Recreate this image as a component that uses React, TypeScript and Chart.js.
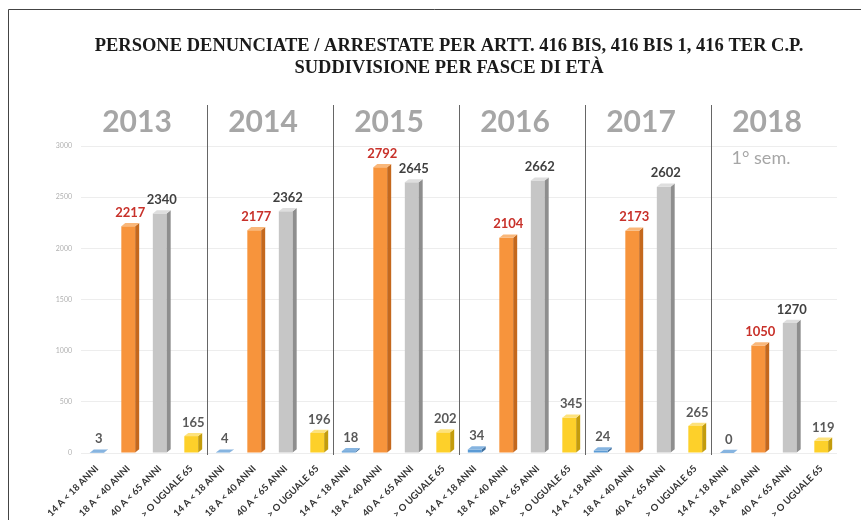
import React, { useEffect, useRef } from 'react';
import { Chart, registerables } from 'chart.js';
Chart.register(...registerables);

const years = ['2013', '2014', '2015', '2016', '2017', '2018'];
const ageGroups = ['14 A < 18 ANNI', '18 A < 40 ANNI', '40 A < 65 ANNI', '> O UGUALE 65'];
const age14to18 = [3, 4, 18, 34, 24, 0];
const age18to40 = [2217, 2177, 2792, 2104, 2173, 1050];
const age40to65 = [2340, 2362, 2645, 2662, 2602, 1270];
const age65plus = [165, 196, 202, 345, 265, 119];
const yMax = 3000;
const yStep = 500;
const titleLines = [
  'PERSONE DENUNCIATE / ARRESTATE PER ARTT. 416 BIS, 416 BIS 1, 416 TER C.P.',
  'SUDDIVISIONE PER FASCE DI ETÀ',
];
const yearNote = '1° sem.';

const seriesValues = [age14to18, age18to40, age40to65, age65plus];
const palette = [
  { front: '#5b9bd5', side: '#3f6f9e', top: '#86b4e0', label: '#595959' },
  { front: '#f7943c', side: '#c4681d', top: '#f9b77a', label: '#c8312a' },
  { front: '#c6c6c6', side: '#8e8e8e', top: '#dedede', label: '#404040' },
  { front: '#fdd02a', side: '#c39c0c', top: '#fde27c', label: '#595959' },
];

const labels: string[] = [];
const values: number[] = [];
const groupIdx: number[] = [];
years.forEach((_, yi) => {
  ageGroups.forEach((g, gi) => {
    labels.push(g);
    values.push(seriesValues[gi][yi]);
    groupIdx.push(gi);
  });
});

const DEPTH = 4;

const decorPlugin = {
  id: 'decor',
  afterDatasetsDraw(chart: any) {
    const ctx = chart.ctx;
    const meta = chart.getDatasetMeta(0);
    meta.data.forEach((bar: any, i: number) => {
      const p = palette[groupIdx[i]];
      const { x, y, base, width } = bar.getProps(['x', 'y', 'base', 'width'], true);
      const l = x - width / 2;
      const r = x + width / 2;
      ctx.save();
      ctx.fillStyle = p.side;
      ctx.beginPath();
      ctx.moveTo(r, y);
      ctx.lineTo(r + DEPTH, y - DEPTH * 0.8);
      ctx.lineTo(r + DEPTH, base - DEPTH * 0.8);
      ctx.lineTo(r, base);
      ctx.closePath();
      ctx.fill();
      ctx.fillStyle = p.top;
      ctx.beginPath();
      ctx.moveTo(l, y);
      ctx.lineTo(l + DEPTH, y - DEPTH * 0.8);
      ctx.lineTo(r + DEPTH, y - DEPTH * 0.8);
      ctx.lineTo(r, y);
      ctx.closePath();
      ctx.fill();
      ctx.fillStyle = p.label;
      ctx.font = 'bold 13px Lato';
      ctx.textAlign = 'center';
      ctx.textBaseline = 'bottom';
      ctx.fillText(String(values[i]), x + 2, y - DEPTH - 3);
      ctx.restore();
    });
  },
  afterDraw(chart: any) {
    const ctx = chart.ctx;
    const xs = chart.scales.x;
    const area = chart.chartArea;
    ctx.save();
    ctx.strokeStyle = '#444';
    ctx.lineWidth = 1;
    ctx.beginPath();
    ctx.moveTo(8.5, 520);
    ctx.lineTo(8.5, 9.5);
    ctx.lineTo(861, 9.5);
    ctx.stroke();
    ctx.fillStyle = '#1a1a1a';
    ctx.font = 'bold 18.5px "Liberation Serif"';
    ctx.textAlign = 'center';
    ctx.textBaseline = 'middle';
    ctx.fillText(titleLines[0], 449, 46);
    ctx.fillText(titleLines[1], 449, 68);
    years.forEach((yr, yi) => {
      const a = xs.getPixelForValue(yi * 4 + 1);
      const b = xs.getPixelForValue(yi * 4 + 2);
      const cx = (a + b) / 2 - 7;
      ctx.fillStyle = '#a6a6a6';
      ctx.font = 'bold 30px Lato';
      ctx.textAlign = 'center';
      ctx.textBaseline = 'middle';
      ctx.fillText(yr, cx, 122);
      if (yi === years.length - 1) {
        ctx.font = '18px Lato';
        ctx.fillText(yearNote, cx - 6, 158);
      }
      if (yi > 0) {
        const prev = xs.getPixelForValue(yi * 4 - 1);
        const cur = xs.getPixelForValue(yi * 4);
        const sx = Math.round((prev + cur) / 2) + 0.5;
        ctx.strokeStyle = '#666';
        ctx.beginPath();
        ctx.moveTo(sx, 105);
        ctx.lineTo(sx, area.bottom + 2);
        ctx.stroke();
      }
    });
    ctx.restore();
  },
};

export default function App() {
  const ref = useRef<HTMLCanvasElement | null>(null);
  useEffect(() => {
    document.body.style.margin = '0';
    const chart = new Chart(ref.current as HTMLCanvasElement, {
      type: 'bar',
      data: {
        labels,
        datasets: [
          {
            data: values,
            backgroundColor: groupIdx.map((g) => palette[g].front),
            categoryPercentage: 1,
            barPercentage: 0.44,
            borderWidth: 0,
          },
        ],
      },
      options: {
        animation: false,
        responsive: false,
        devicePixelRatio: 1,
        layout: { padding: { top: 146, right: 24, left: 0, bottom: 0 } },
        plugins: { legend: { display: false }, tooltip: { enabled: false }, title: { display: false } },
        scales: {
          x: {
            grid: { display: false },
            border: { display: false },
            ticks: {
              autoSkip: false,
              maxRotation: 45,
              minRotation: 45,
              padding: 2,
              color: '#333',
              font: { family: 'Lato', size: 9.5, weight: 'bold' },
            },
            afterFit: (s: any) => {
              s.height = 67;
            },
          },
          y: {
            min: 0,
            max: yMax,
            ticks: {
              stepSize: yStep,
              color: '#b0b0b0',
              padding: 9,
              font: { family: 'Lato', size: 7 },
              callback: (v: any) => String(v),
            },
            grid: { color: '#ededed', drawTicks: false },
            border: { display: false },
            afterFit: (s: any) => {
              s.width = 81;
            },
          },
        },
      },
      plugins: [decorPlugin],
    });
    return () => chart.destroy();
  }, []);
  return (
    <div style={{ position: 'relative', width: 861, height: 520, background: '#fff' }}>
      <canvas ref={ref} width={861} height={520} />
    </div>
  );
}
